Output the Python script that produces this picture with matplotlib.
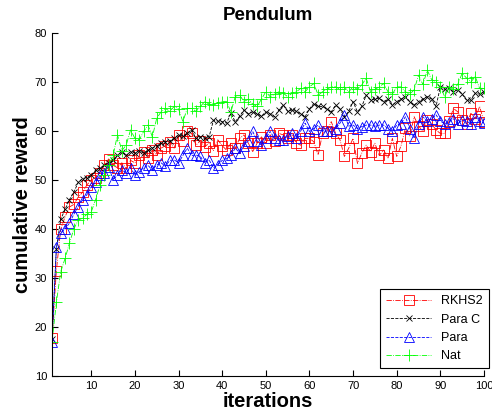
import matplotlib

matplotlib.use("Agg")
import matplotlib.pyplot as plt
import numpy as np

plt.rcParams["font.family"] = ["Liberation Sans", "DejaVu Sans"]

iterations = np.arange(1, 101)

rkhs2 = [
    17.8, 31.5, 40.0, 42.5, 44.5, 45.0, 46.5, 47.5, 49.0, 50.0,
    50.5, 51.5, 53.0, 54.3, 53.0, 52.5, 53.5, 52.4, 54.0, 53.5,
    55.0, 55.8, 54.5, 56.1, 55.0, 56.5, 57.0, 57.8, 56.5, 59.2,
    58.0, 59.9, 59.5, 57.1, 58.0, 56.8, 57.5, 56.0, 58.2, 57.0,
    56.1, 57.5, 56.5, 58.5, 59.2, 57.5, 55.8, 57.5, 58.8, 57.5,
    59.2, 58.0, 59.5, 59.2, 58.5, 59.2, 57.5, 57.1, 58.5, 58.5,
    57.8, 55.1, 59.5, 60.0, 61.9, 59.5, 58.2, 54.8, 56.5, 58.5,
    53.4, 55.5, 57.1, 55.8, 57.5, 55.0, 56.1, 54.5, 58.5, 54.8,
    57.0, 60.6, 59.0, 62.9, 61.0, 60.0, 62.2, 61.5, 60.2, 59.5,
    59.5, 62.0, 64.6, 63.9, 62.2, 61.5, 63.6, 62.5, 65.0, 61.9,
]

para_c = [
    17.5, 36.0, 42.0, 44.0, 46.0, 47.5, 49.5, 50.3, 50.5, 51.0,
    52.0, 52.5, 53.0, 53.5, 54.0, 55.0, 55.8, 55.0, 55.8, 55.5,
    56.0, 55.5, 56.1, 56.5, 57.0, 57.5, 57.8, 58.0, 58.5, 59.2,
    59.0, 59.5, 60.2, 58.5, 58.8, 58.5, 58.8, 62.2, 62.0, 61.9,
    61.6, 63.6, 61.9, 63.0, 64.3, 63.5, 63.9, 63.5, 63.0, 63.9,
    63.5, 62.9, 64.3, 65.3, 64.0, 64.3, 64.0, 63.5, 62.9, 64.5,
    65.6, 65.0, 65.0, 64.5, 63.9, 65.3, 64.5, 62.9, 64.0, 66.0,
    63.9, 65.0, 67.3, 66.3, 66.5, 66.7, 66.0, 66.5, 65.3, 66.0,
    66.5, 67.0, 66.0, 65.3, 66.0, 66.5, 67.0, 66.5, 65.0, 69.0,
    68.5, 68.7, 68.0, 68.4, 67.5, 66.3, 66.3, 67.7, 67.5, 68.0,
]

para = [
    17.0, 36.4, 39.1, 40.0, 41.2, 43.0, 44.5, 45.9, 47.0, 48.6,
    49.5, 51.0, 51.5, 52.7, 50.0, 51.0, 52.0, 51.5, 52.5, 51.0,
    51.7, 52.5, 53.0, 52.0, 53.1, 53.5, 52.8, 54.0, 54.1, 53.5,
    55.0, 56.5, 55.0, 55.1, 54.8, 53.5, 54.1, 52.5, 53.1, 54.0,
    54.4, 55.0, 56.5, 55.5, 57.0, 58.0, 59.9, 58.0, 57.1, 58.5,
    59.9, 58.5, 58.2, 58.2, 59.0, 59.5, 58.5, 60.0, 61.6, 59.9,
    60.5, 61.2, 59.9, 60.0, 59.9, 60.5, 61.6, 63.3, 61.0, 61.2,
    60.5, 60.9, 61.2, 61.2, 61.0, 61.2, 61.2, 60.5, 59.9, 61.2,
    61.5, 62.9, 60.5, 58.5, 61.5, 62.9, 62.0, 62.5, 63.3, 62.0,
    61.5, 61.9, 62.5, 61.5, 62.2, 62.0, 61.5, 62.9, 62.0, 61.6,
]

nat = [
    17.0, 25.0, 31.3, 34.0, 37.1, 40.0, 41.8, 42.2, 43.0, 43.5,
    46.0, 49.0, 51.0, 53.0, 55.0, 59.2, 56.0, 57.1, 60.2, 58.5,
    58.2, 59.9, 61.2, 58.8, 62.6, 63.9, 64.6, 64.0, 65.0, 64.5,
    61.9, 64.6, 64.6, 64.0, 65.0, 66.0, 65.5, 65.3, 65.8, 66.0,
    66.0, 63.9, 67.0, 67.3, 66.0, 66.5, 65.5, 65.0, 66.5, 68.0,
    67.0, 67.5, 68.0, 67.7, 67.0, 67.7, 68.0, 68.7, 68.0, 69.0,
    69.7, 67.3, 68.0, 68.5, 69.0, 69.0, 68.5, 69.0, 68.0, 69.0,
    68.5, 69.4, 70.8, 68.0, 68.5, 69.0, 69.7, 68.0, 67.5, 69.0,
    69.0, 68.0, 67.5, 68.4, 71.4, 69.5, 72.4, 70.5, 70.0, 69.0,
    67.0, 69.0, 68.5, 69.5, 71.8, 70.8, 70.0, 71.1, 68.7, 68.7,
]

series = [
    ("RKHS2", rkhs2, (1, 0, 0), "-.", "s", 6.5),
    ("Para C", para_c, (0, 0, 0), "--", "x", 4.5),
    ("Para", para, (0, 0, 1), "--", "^", 6.5),
    ("Nat", nat, (0, 1, 0), "-.", "+", 8),
]

fig = plt.figure(figsize=(4.92, 4.18), dpi=100)
ax = fig.add_axes([0.1057, 0.1005, 0.878, 0.8206])

for name, vals, col, ls, mk, ms in series:
    ax.plot(iterations, vals, color=col, linestyle=ls, linewidth=0.6,
            marker=mk, markersize=ms, markerfacecolor="none",
            markeredgecolor=col, markeredgewidth=0.6, label=name)

ax.set_xlim(1, 100)
ax.set_ylim(10, 80)
ax.set_xticks(np.arange(10, 101, 10))
ax.set_yticks(np.arange(10, 81, 10))
ax.tick_params(direction="in", labelsize=8, length=4, width=0.8)
for side in ("top", "right"):
    ax.spines[side].set_visible(False)
for side in ("left", "bottom"):
    ax.spines[side].set_linewidth(0.8)

ax.set_title("Pendulum", fontsize=13.5, fontweight="bold", pad=9)
ax.set_xlabel("iterations", fontsize=14.5, fontweight="bold", labelpad=1)
ax.set_ylabel("cumulative reward", fontsize=14.5, fontweight="bold", labelpad=2)

leg = ax.legend(loc="lower right", bbox_to_anchor=(1.012, 0.022), fontsize=9,
                fancybox=False, framealpha=1, edgecolor="black",
                borderaxespad=0, handlelength=3.6, labelspacing=0.5,
                borderpad=0.5)
leg.get_frame().set_linewidth(0.8)

fig.savefig("out.png", dpi=100)
